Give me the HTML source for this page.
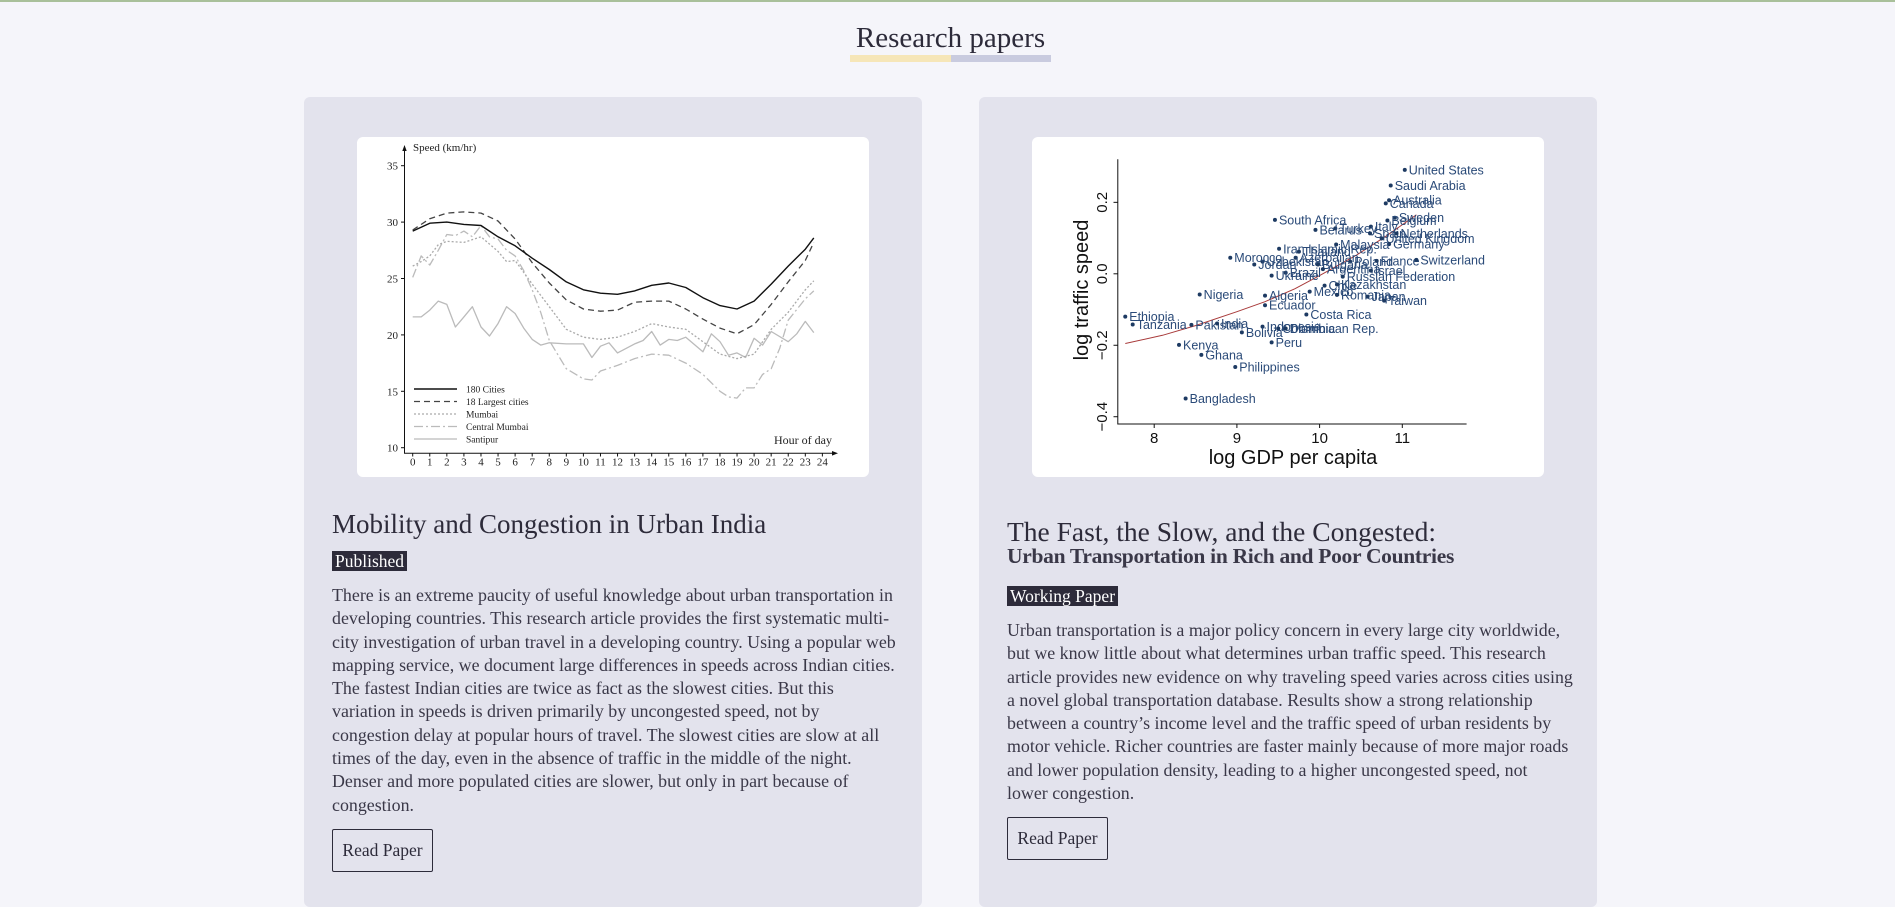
<!DOCTYPE html>
<html><head><meta charset="utf-8"><style>
*{margin:0;padding:0;box-sizing:border-box}
body{width:1895px;height:907px;background:#f5f5fa;position:relative;overflow:hidden;font-family:"Liberation Serif",serif;color:#2d2b3a}
.abs{position:absolute}
.card{position:absolute;top:97px;width:618px;height:810px;background:#e3e3ed;border-radius:6px}
.imgbox{position:absolute;background:#fff;border-radius:6px}
.ttl{position:absolute;font-size:27px;white-space:nowrap;color:#2d2b3a}
.badge{position:absolute;background:#2d2b3a;color:#fff;font-size:17.5px;line-height:20px;padding:0 3px;white-space:nowrap}
.para{position:absolute;font-size:17.9px;line-height:23.3px;white-space:nowrap;color:#3a3848}
.btn{position:absolute;border:1.5px solid #2d2b3a;border-radius:2px;font-size:17.5px;display:flex;align-items:center;justify-content:center;color:#2d2b3a;background:transparent}
.c1 text{font-family:"Liberation Serif",serif}
.c2 text{font-family:"Liberation Sans",sans-serif}
</style></head><body>
<div class="abs" style="left:0;top:0;width:1895px;height:2px;background:#a9c09a"></div>
<div class="abs" style="left:840px;top:22px;width:221px;text-align:center;font-size:29px;color:#2d2b3a">Research papers</div>
<div class="abs" style="left:850px;top:55px;width:101px;height:7px;background:#f6e6b8"></div>
<div class="abs" style="left:951px;top:55px;width:100px;height:7px;background:#c9cbdf"></div>

<div class="card" style="left:304px"></div>
<div class="card" style="left:979px"></div>
<div class="imgbox" style="left:357px;top:137px;width:512px;height:340px"></div>
<div class="imgbox" style="left:1032px;top:137px;width:512px;height:340px"></div>

<div class="ttl" style="left:332px;top:509px">Mobility and Congestion in Urban India</div>
<div class="badge" style="left:332px;top:551px">Published</div>
<div class="para" style="left:332px;top:584px">There is an extreme paucity of useful knowledge about urban transportation in<br>developing countries. This research article provides the first systematic multi-<br>city investigation of urban travel in a developing country. Using a popular web<br>mapping service, we document large differences in speeds across Indian cities.<br>The fastest Indian cities are twice as fact as the slowest cities. But this<br>variation in speeds is driven primarily by uncongested speed, not by<br>congestion delay at popular hours of travel. The slowest cities are slow at all<br>times of the day, even in the absence of traffic in the middle of the night.<br>Denser and more populated cities are slower, but only in part because of<br>congestion.</div>
<div class="btn" style="left:332px;top:829px;width:101px;height:43px">Read Paper</div>

<div class="ttl" style="left:1007px;top:516px;font-size:27.5px">The Fast, the Slow, and the Congested:</div>
<div class="abs" style="left:1007px;top:544px;font-size:21.5px;white-space:nowrap;font-weight:bold;letter-spacing:-0.3px;color:#3a3848">Urban Transportation in Rich and Poor Countries</div>
<div class="badge" style="left:1007px;top:586px">Working Paper</div>
<div class="para" style="left:1007px;top:619px">Urban transportation is a major policy concern in every large city worldwide,<br>but we know little about what determines urban traffic speed. This research<br>article provides new evidence on why traveling speed varies across cities using<br>a novel global transportation database. Results show a strong relationship<br>between a country’s income level and the traffic speed of urban residents by<br>motor vehicle. Richer countries are faster mainly because of more major roads<br>and lower population density, leading to a higher uncongested speed, not<br>lower congestion.</div>
<div class="btn" style="left:1007px;top:817px;width:101px;height:43px">Read Paper</div>

<svg id="chart" class="abs" style="left:0;top:0" width="1895" height="907"></svg>

<script>
// ---- Chart 1: speed by hour ----
const seriesNames = ["180 Cities","18 Largest cities","Mumbai","Central Mumbai","Santipur"];
const hoursA = [0,1,2,3,4,5,6,7,8,9,10,11,12,13,14,15,16,17,18,19,20,21,22,23,23.5];
const cities180 = [29.2,29.9,30,29.8,29.7,28.7,27.9,26.8,25.8,24.7,24,23.7,23.6,23.9,24.4,24.6,24.2,23.3,22.6,22.3,23.0,24.5,26.1,27.6,28.6];
const largest18 = [29.3,30.3,30.8,30.9,30.8,30.1,28.5,26.4,24.6,23.1,22.3,22.1,22.2,22.9,23.0,23.0,22.3,21.4,20.6,20.1,20.9,22.7,24.7,26.6,28.2];
const hoursMumbai = [0,0.5,1,1.5,2,3,4,5,5.5,6,7,8,9,10,11,12,13,14,15,16,17,18,19,20,21,22,23,23.5];
const mumbai = [26.1,26.5,27.0,28.0,28.3,28.2,28.7,27.4,26.5,26.6,24.5,22.5,20.5,19.8,19.6,19.8,20.3,21.0,20.7,20.5,19.4,18.3,17.9,18.3,20.5,22.0,24.0,24.8];
const hoursCentral = [0,0.5,1,1.5,2,2.5,3,3.5,4,4.5,5,5.5,6,6.5,7,7.5,8,9,10,10.5,11,12,13,14,15,16,17,18,18.5,19,19.5,20,20.5,21,21.5,22,23,23.5];
const centralMumbai = [25.1,27.0,26.2,27.5,28.9,28.8,29.2,28.7,29.7,28.7,28.5,27.5,27.0,25.7,24.0,22.0,19.5,17.0,16.1,16.0,16.8,17.3,17.9,18.3,18.2,17.5,16.5,15.0,14.5,14.4,15.3,15.3,16.5,17.0,18.8,21.3,23.2,23.9];
const hoursSanti = [0,0.5,1,1.5,2,2.5,3,3.5,4,4.5,5,5.5,6,6.5,7,7.5,8,9,10,10.5,11,11.5,12,13,13.5,14,14.5,15,15.5,16,17,17.5,18,18.5,19,19.5,20,20.5,21,22,22.5,23,23.5];
const santipur = [21.6,21.6,22.2,23.0,22.7,20.7,21.6,22.5,20.7,19.9,21.0,22.5,21.9,20.6,19.6,19.1,19.3,19.2,19.2,18.0,19.0,19.3,18.4,19.2,19.5,20.3,19.1,19.6,19.5,19.8,18.5,20.1,19.4,18.2,18.4,18.0,19.7,19.1,20.3,19.4,20.1,21.2,20.2];
const yTicksA = [10,15,20,25,30,35];
const xTicksA = [0,1,2,3,4,5,6,7,8,9,10,11,12,13,14,15,16,17,18,19,20,21,22,23,24];

// ---- Chart 2: scatter ----
const countries = ["United States","Saudi Arabia","Australia","Canada","Sweden","Belgium","South Africa","Italy","Turkey","Belarus","Spain","Netherlands","United Kingdom","Germany","Malaysia","Iran Islamic Rep.","Thailand","Morocco","Azerbaijan","Uzbekistan","Jordan","Poland","Bulgaria","France","Switzerland","Argentina","Israel","Brazil","Ukraine","Russian Federation","Chile","Kazakhstan","Mexico","Nigeria","Algeria","Romania","Japan","Taiwan","Ecuador","Costa Rica","Ethiopia","Tanzania","Pakistan","India","Indonesia","Colombia","Dominican Rep.","Bolivia","Peru","Kenya","Ghana","Philippines","Bangladesh"];
const logGdp = [11.03,10.86,10.84,10.80,10.91,10.82,9.46,10.62,10.19,9.95,10.61,10.93,10.75,10.84,10.20,9.51,9.75,8.92,9.71,9.31,9.21,10.37,9.98,10.69,11.17,10.04,10.62,9.59,9.42,10.28,10.06,10.21,9.88,8.55,9.34,10.21,10.58,10.78,9.34,9.84,7.65,7.74,8.45,8.76,9.31,9.50,9.59,9.06,9.42,8.30,8.57,8.98,8.38];
const logSpeed = [0.291,0.247,0.206,0.197,0.157,0.149,0.151,0.132,0.127,0.123,0.113,0.113,0.099,0.083,0.082,0.070,0.062,0.045,0.045,0.034,0.026,0.034,0.026,0.036,0.039,0.013,0.009,0.003,-0.005,-0.008,-0.033,-0.030,-0.050,-0.058,-0.061,-0.059,-0.064,-0.075,-0.088,-0.114,-0.120,-0.142,-0.143,-0.139,-0.148,-0.153,-0.153,-0.164,-0.192,-0.199,-0.227,-0.261,-0.349];
const fitX = [7.65,8.1,8.5,9.0,9.34,9.7,10.0,10.45,10.8,11.17];
const fitY = [-0.195,-0.172,-0.145,-0.106,-0.078,-0.042,-0.005,0.053,0.105,0.165];
const xTicksB = [8,9,10,11];
const yTicksB = [-0.4,-0.2,0.0,0.2];

const NS="http://www.w3.org/2000/svg";
const svg=document.getElementById('chart');
function mk(tag,attrs,parent){const e=document.createElementNS(NS,tag);for(const k in attrs)e.setAttribute(k,attrs[k]);(parent||svg).appendChild(e);return e;}

// chart 1 scales
const xA=h=>412.7+h*17.07;
const yA=v=>447.7-(v-10)*11.28;
let g1=mk('g',{class:'c1'});


let ax=mk('path',{d:`M404.5,148 L404.5,453.3 L836,453.3`,stroke:'#111',fill:'none','stroke-width':1},g1);


mk('path',{d:'M402.3,151 L404.5,145 L406.7,151 Z',fill:'#111'},g1);
mk('path',{d:'M832,451 L838,453.3 L832,455.6 Z',fill:'#111'},g1);
yTicksA.forEach(v=>{
  mk('line',{x1:401,x2:404.5,y1:yA(v),y2:yA(v),stroke:'#111'},g1);
  let t=mk('text',{x:398,y:yA(v)+4,'text-anchor':'end','font-size':11,fill:'#222'},g1);t.textContent=v;
  
  
});
xTicksA.forEach(h=>{
  mk('line',{x1:xA(h),x2:xA(h),y1:453.3,y2:456.5,stroke:'#111'},g1);
  let t=mk('text',{x:xA(h),y:465.5,'text-anchor':'middle','font-size':11,fill:'#222'},g1);t.textContent=h;
  
  
});
let st=mk('text',{x:413,y:151,'font-size':11,fill:'#222'},g1);st.textContent='Speed (km/hr)';


let ht=mk('text',{x:832,y:444,'text-anchor':'end','font-size':12,fill:'#222'},g1);ht.textContent='Hour of day';


const styles=[
 {stroke:'#111',dash:'',w:1.4},
 {stroke:'#444',dash:'6 4',w:1.3},
 {stroke:'#aaa',dash:'2 2',w:1.3},
 {stroke:'#bbb',dash:'9 3 2 3',w:1.3},
 {stroke:'#bbb',dash:'',w:1.3}];
const sx=[hoursA,hoursA,hoursMumbai,hoursCentral,hoursSanti];
const sy=[cities180,largest18,mumbai,centralMumbai,santipur];
const order=[4,3,2,1,0];
order.forEach(i=>{
  const d=sx[i].map((h,j)=>(j?'L':'M')+xA(h).toFixed(1)+','+yA(sy[i][j]).toFixed(1)).join(' ');
  const p=mk('path',{d,fill:'none',stroke:styles[i].stroke,'stroke-width':styles[i].w,'stroke-dasharray':styles[i].dash,'stroke-linejoin':'round'},g1);
  
  
});
seriesNames.forEach((n,i)=>{
  const y=389+i*12.5;
  const lg=mk('g',{},g1);
  
  
  mk('line',{x1:414,x2:457,y1:y,y2:y,stroke:styles[i].stroke,'stroke-width':styles[i].w,'stroke-dasharray':styles[i].dash},lg);
  const t=mk('text',{x:466,y:y+3.5,'font-size':9.5,fill:'#222'},lg);t.textContent=n;
});

// chart 2 scales
const xB=v=>1154.2+(v-8)*82.7;
const yB=v=>273.8-v*357.3;
let g2=mk('g',{class:'c2'});


let ax2=mk('path',{d:'M1117.8,159.3 L1117.8,424 L1466.6,424',stroke:'#111',fill:'none','stroke-width':1},g2);


xTicksB.forEach(v=>{
  mk('line',{x1:xB(v),x2:xB(v),y1:424,y2:428,stroke:'#111'},g2);
  const t=mk('text',{x:xB(v),y:443,'text-anchor':'middle','font-size':15,fill:'#111'},g2);t.textContent=v;
  
  
});
yTicksB.forEach(v=>{
  mk('line',{x1:1113.5,x2:1117.8,y1:yB(v),y2:yB(v),stroke:'#111'},g2);
  const t=mk('text',{x:0,y:0,'text-anchor':'middle','font-size':15,fill:'#111',transform:`translate(1107,${yB(v)}) rotate(-90)`},g2);
  t.textContent=v===0?'0.0':(v<0?'\u2212'+Math.abs(v).toFixed(1):v.toFixed(1));
  
  
});
let xt=mk('text',{x:1293,y:464,'text-anchor':'middle','font-size':20,fill:'#111'},g2);xt.textContent='log GDP per capita';


let yt=mk('text',{x:0,y:0,'text-anchor':'middle','font-size':20,fill:'#111',transform:'translate(1088,290) rotate(-90)'},g2);yt.textContent='log traffic speed';


const fd=fitX.map((x,j)=>(j?'L':'M')+xB(x).toFixed(1)+','+yB(fitY[j]).toFixed(1)).join(' ');
const fp=mk('path',{d:fd,fill:'none',stroke:'#a83a3a','stroke-width':1},g2);


countries.forEach((c,i)=>{
  const pg=mk('g',{},g2);
  
  
  mk('circle',{cx:xB(logGdp[i]),cy:yB(logSpeed[i]),r:2,fill:'#1d3a62'},pg);
  const t=mk('text',{x:xB(logGdp[i])+4,y:yB(logSpeed[i])+4.5,'font-size':12.5,fill:'#2a4a78'},pg);
  t.textContent=c;
});
</script>
</body></html>
